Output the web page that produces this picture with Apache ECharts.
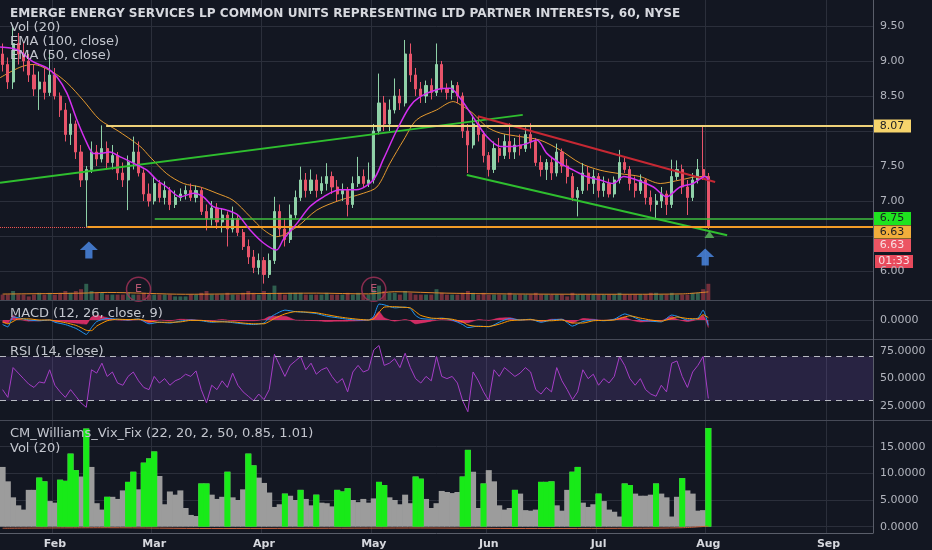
<!DOCTYPE html>
<html><head><meta charset="utf-8">
<script src="https://cdn.jsdelivr.net/npm/echarts@6/dist/echarts.min.js"></script>
<style>html,body{margin:0;padding:0;background:#131722;}#c{width:932px;height:550px;}</style>
</head><body><div id="c"></div><script>
// ---------- data ----------
const chartTitle = 'EMERGE ENERGY SERVICES LP COMMON UNITS REPRESENTING LTD PARTNER INTERESTS, 60, NYSE';
const firstDay = [2018, 0, 18];
const holidays = ['2018-02-19','2018-03-30','2018-05-28','2018-07-04','2018-09-03'];
const slotCount = 167;
const monthNames = ['Jan','Feb','Mar','Apr','May','Jun','Jul','Aug','Sep','Oct','Nov','Dec'];

// [open, close, low, high] per trading day
const candles = [
[9.10,8.95,8.85,9.25],[8.95,8.70,8.60,9.05],[8.70,9.25,8.60,9.51],[9.25,9.10,8.95,9.40],[9.10,9.00,8.85,9.27],
[9.00,8.80,8.70,9.10],[8.80,8.60,8.50,8.95],[8.60,8.70,8.30,8.85],[8.70,8.55,8.45,8.90],[8.55,8.80,8.50,9.16],
[8.80,8.50,8.45,8.90],[8.50,8.30,8.20,8.55],[8.30,7.95,7.85,8.40],[7.95,8.10,7.80,8.25],[8.10,7.70,7.60,8.15],
[7.70,7.30,7.20,7.80],[7.30,7.45,6.63,7.50],[7.45,7.70,7.40,7.85],[7.70,7.60,7.50,7.80],[7.60,7.75,7.55,8.08],
[7.75,7.55,7.45,7.85],[7.55,7.65,7.45,7.80],[7.65,7.40,7.30,7.70],[7.40,7.30,7.20,7.55],[7.30,7.55,6.87,7.65],
[7.55,7.70,7.45,7.92],[7.70,7.40,7.35,7.85],[7.40,7.10,7.00,7.45],[7.10,7.00,6.92,7.25],[7.00,7.25,6.95,7.35],
[7.25,7.05,6.98,7.30],[7.05,7.15,6.95,7.28],[7.15,6.95,6.87,7.20],[6.95,7.05,6.90,7.15],[7.05,7.10,7.00,7.18],
[7.10,7.15,7.02,7.22],[7.15,7.05,7.00,7.25],[7.05,7.15,6.98,7.22],[7.15,6.85,6.80,7.20],[6.85,6.75,6.58,6.95],
[6.75,6.90,6.65,7.00],[6.90,6.70,6.60,6.97],[6.70,6.80,6.55,6.90],[6.80,6.60,6.35,6.85],[6.60,6.75,6.55,6.92],
[6.75,6.55,6.50,6.80],[6.55,6.35,6.30,6.60],[6.35,6.20,6.10,6.45],[6.20,6.05,5.97,6.30],[6.05,6.15,5.95,6.25],
[6.15,5.95,5.82,6.20],[5.95,6.15,5.90,6.25],[6.15,6.85,6.10,7.06],[6.85,6.60,6.50,6.95],[6.60,6.45,6.35,6.75],
[6.45,6.80,6.40,6.95],[6.80,7.05,6.75,7.15],[7.05,7.30,7.00,7.49],[7.30,7.15,7.05,7.40],[7.15,7.30,7.10,7.45],
[7.30,7.15,7.05,7.38],[7.15,7.25,7.10,7.35],[7.25,7.35,7.15,7.54],[7.35,7.20,7.10,7.42],[7.20,7.10,7.00,7.30],
[7.10,7.15,7.00,7.25],[7.15,6.95,6.78,7.20],[6.95,7.25,6.90,7.35],[7.25,7.35,7.20,7.63],[7.35,7.25,7.20,7.45],
[7.25,7.30,7.20,7.55],[7.30,8.00,7.25,8.10],[8.00,8.40,7.95,8.82],[8.40,8.10,8.00,8.50],[8.10,8.30,8.00,8.45],
[8.30,8.50,8.25,8.75],[8.50,8.40,8.30,8.60],[8.40,9.10,8.35,9.30],[9.10,8.80,8.70,9.25],[8.80,8.60,8.50,8.90],
[8.60,8.50,8.40,8.70],[8.50,8.65,8.40,8.72],[8.65,8.55,8.45,8.75],[8.55,8.95,8.50,9.25],[8.95,8.60,8.55,9.00],
[8.60,8.55,8.45,8.68],[8.55,8.65,8.45,8.72],[8.65,8.50,8.40,8.70],[8.50,8.00,7.90,8.55],[8.00,7.80,7.40,8.10],
[7.80,8.10,7.75,8.23],[8.10,7.95,7.85,8.20],[7.95,7.65,7.55,8.00],[7.65,7.45,7.35,7.70],[7.45,7.75,7.40,7.85],
[7.75,7.65,7.55,7.90],[7.65,7.85,7.60,7.95],[7.85,7.70,7.60,8.11],[7.70,7.80,7.60,7.90],[7.80,7.75,7.65,7.95],
[7.75,7.95,7.70,8.05],[7.95,7.85,7.75,8.11],[7.85,7.55,7.50,7.90],[7.55,7.45,7.35,7.65],[7.45,7.55,7.30,7.60],
[7.55,7.40,7.30,7.62],[7.40,7.70,7.35,7.82],[7.70,7.50,7.40,7.75],[7.50,7.35,7.25,7.60],[7.35,7.05,7.00,7.40],
[7.05,7.15,6.78,7.20],[7.15,7.40,7.10,7.54],[7.40,7.25,7.15,7.50],[7.25,7.35,7.10,7.45],[7.35,7.15,7.05,7.40],
[7.15,7.25,7.06,7.35],[7.25,7.10,7.05,7.32],[7.10,7.30,7.05,7.35],[7.30,7.55,7.25,7.73],[7.55,7.45,7.40,7.63],
[7.45,7.25,7.15,7.50],[7.25,7.15,7.05,7.35],[7.15,7.30,7.10,7.38],[7.30,7.05,6.95,7.32],[7.05,6.95,6.85,7.15],
[6.95,7.00,6.73,7.10],[7.00,7.10,6.90,7.20],[7.10,6.95,6.80,7.15],[6.95,7.35,6.90,7.59],[7.35,7.45,7.30,7.58],
[7.45,7.20,7.10,7.52],[7.20,7.05,6.80,7.30],[7.05,7.30,7.00,7.40],[7.30,7.45,7.25,7.60],[7.45,7.35,7.30,8.07],
[7.35,6.63,6.60,7.40]
];
const volume = [
3,3,5,3,3,2,3,4,3,4, 3,4,5,4,5,6,9,5,4,4, 3,3,3,3,4,3,3,4,3,3, 3,3,3,2,2,2,3,3,4,5,
3,3,3,4,3,3,4,5,4,3, 5,4,8,4,3,4,4,4,3,3, 3,3,4,3,3,3,4,3,4,3, 3,6,8,5,4,4,3,5,4,3,
3,3,3,6,4,3,3,3,4,5, 4,3,4,3,3,3,3,4,3,3, 3,3,4,3,3,3,3,3,2,4, 3,3,3,3,3,3,3,3,4,3,
3,3,3,3,4,4,3,3,4,3, 3,3,4,4,6,9
];
const volumeMA = [[0,3.3],[15,3.8],[20,4.2],[35,3.2],[50,3.6],[60,3.8],[70,3.4],[75,4.6],[85,3.8],[100,3.3],[120,3.2],[130,3.4],[135,4.5]];
// [day position, price]
const ema50Points = [[-0.5,9.2],[2.8,9.16],[5.8,8.99],[8.5,8.9],[10.4,8.77],[12.3,8.54],[14.2,8.16],[16.1,7.83],[17.4,7.68],[18.6,7.68],[20.5,7.7],[22.5,7.63],[25,7.54],[27.6,7.44],[29.5,7.3],[31.4,7.2],[34,7.06],[36.5,7.11],[38.4,7.06],[40.3,6.92],[42.9,6.87],[45,6.8],[47.3,6.59],[49.9,6.4],[52.4,6.3],[53.7,6.45],[56.3,6.68],[58.8,6.92],[61.4,7.06],[64.5,7.16],[67.7,7.16],[70.9,7.3],[72.8,7.59],[75.4,8.01],[77.9,8.35],[79.9,8.49],[83,8.59],[85.6,8.61],[87.5,8.47],[90,8.2],[92.6,7.92],[95.2,7.78],[97.7,7.78],[100.3,7.82],[102.2,7.87],[104.1,7.68],[106.6,7.54],[109.2,7.44],[111.7,7.35],[114.3,7.3],[116.8,7.25],[118.8,7.35],[121.3,7.3],[124.5,7.2],[127,7.06],[129.6,7.2],[132.1,7.25],[134.4,7.35],[135,7.3]];
const ema100Points = [[-0.5,8.76],[3.3,8.91],[5.8,8.95],[9.6,8.84],[12.3,8.69],[15.4,8.44],[18.6,8.16],[21.9,8.01],[26.3,7.78],[28.2,7.63],[31.4,7.39],[34.6,7.25],[37.8,7.2],[41,7.11],[44.1,7.01],[47.3,6.78],[49.9,6.59],[52.4,6.49],[56.3,6.63],[60.1,6.87],[64.5,7.01],[69,7.11],[71.6,7.2],[74.1,7.54],[76.7,7.87],[79.2,8.16],[83,8.3],[86.2,8.42],[88.1,8.35],[90,8.25],[92.6,8.06],[95.2,7.97],[99,7.92],[102.8,7.87],[106.6,7.73],[110.5,7.54],[114.3,7.44],[118.1,7.39],[121.9,7.35],[125.8,7.25],[129.6,7.3],[133.4,7.35],[135,7.35]];
// drawings: [[x1, p1], [x2, p2]]
const levelYellow = 8.07, levelGreen = 6.75, levelOrange = 6.63, lastPrice = 6.63;
const yellowLine = [[19.8,8.07],[166.5,8.07]];
const orangeLine = [[16.2,6.63],[166.5,6.63]];
const greenLevelLine = [[29.1,6.75],[166.5,6.75]];
const lastPriceLine = [[-0.5,6.63],[166.5,6.63]];
const greenTrend = [[-0.5,7.26],[99.5,8.23]];
const redTrend = [[90.9,8.21],[136.3,7.27]];
const greenChannel = [[88.8,7.37],[138.6,6.51]];
const earningsMarks = [[26,5.74],[71,5.74]];
const arrowMarks = [[16.5,6.3],[134.4,6.2]];
const triangleMarks = [[135.2,6.52]];
const countdownText = '01:33';
// MACD [day, value]
const macdLine = [[0,-0.12],[1,-0.18],[2,0.08],[3,0.06],[5,0.0],[7,-0.02],[9,0.0],[10,-0.06],[12,-0.12],[14,-0.22],[15,-0.3],[16,-0.38],[17,-0.2],[18,-0.04],[20,0.04],[22,0.02],[24,0.0],[26,0.03],[28,-0.1],[30,-0.06],[32,-0.08],[34,-0.03],[36,0.0],[38,-0.02],[40,-0.06],[42,-0.04],[44,-0.07],[46,-0.1],[48,-0.12],[50,-0.08],[51,0.05],[52,0.14],[54,0.26],[56,0.22],[58,0.2],[60,0.17],[62,0.1],[64,0.06],[66,0.02],[68,0.0],[70,0.0],[71,0.1],[72,0.42],[73,0.40],[75,0.32],[77,0.34],[78,0.30],[79,0.12],[80,0.04],[82,0.02],[84,0.05],[86,0.0],[88,-0.12],[89,-0.2],[91,-0.16],[93,-0.18],[95,-0.06],[97,0.04],[99,0.0],[101,0.02],[103,-0.06],[105,0.0],[107,0.02],[109,-0.16],[111,-0.04],[113,0.0],[115,-0.02],[117,0.02],[119,0.16],[120,0.12],[122,0.0],[124,-0.03],[126,-0.05],[128,0.13],[129,0.1],[131,0.0],[133,0.05],[134,0.26],[135,-0.14]];
const macdSignal = [[0,-0.05],[1,-0.1],[2,-0.04],[3,0.03],[5,0.03],[7,0.0],[9,0.0],[10,-0.02],[12,-0.07],[14,-0.14],[15,-0.2],[16,-0.27],[17,-0.28],[18,-0.16],[20,-0.02],[22,0.02],[24,0.01],[26,0.02],[28,-0.03],[30,-0.06],[32,-0.06],[34,-0.05],[36,-0.01],[38,-0.01],[40,-0.04],[42,-0.05],[44,-0.05],[46,-0.08],[48,-0.1],[50,-0.1],[51,-0.04],[52,0.04],[54,0.16],[56,0.22],[58,0.21],[60,0.19],[62,0.14],[64,0.09],[66,0.05],[68,0.02],[70,0.0],[71,0.03],[72,0.2],[73,0.34],[75,0.35],[77,0.33],[78,0.32],[79,0.22],[80,0.12],[82,0.05],[84,0.04],[86,0.02],[88,-0.05],[89,-0.13],[91,-0.17],[93,-0.17],[95,-0.11],[97,-0.02],[99,0.0],[101,0.01],[103,-0.02],[105,-0.02],[107,0.0],[109,-0.08],[111,-0.08],[113,-0.02],[115,-0.01],[117,0.0],[119,0.08],[120,0.11],[122,0.05],[124,0.0],[126,-0.03],[128,0.04],[129,0.08],[131,0.04],[133,0.03],[134,0.14],[135,0.06]];
const macdHist = [[0,-0.07],[1,-0.08],[2,0.12],[3,0.03],[5,-0.03],[7,-0.02],[9,0],[10,-0.04],[12,-0.05],[14,-0.08],[15,-0.1],[16,-0.11],[17,0.08],[18,0.12],[20,0.06],[22,0],[24,-0.01],[26,0.01],[28,-0.07],[30,0],[32,-0.02],[34,0.02],[36,0.01],[38,-0.01],[40,-0.02],[42,0.01],[44,-0.02],[46,-0.02],[48,-0.02],[50,0.02],[51,0.09],[52,0.1],[54,0.1],[56,0],[58,-0.01],[60,-0.02],[62,-0.04],[64,-0.03],[66,-0.03],[68,-0.02],[70,0],[71,0.07],[72,0.22],[73,0.06],[75,-0.03],[77,0.01],[78,-0.02],[79,-0.1],[80,-0.08],[82,-0.03],[84,0.01],[86,-0.02],[88,-0.07],[89,-0.07],[91,0.01],[93,-0.01],[95,0.05],[97,0.06],[99,0],[101,0.01],[103,-0.04],[105,0.02],[107,0.02],[109,-0.08],[111,0.04],[113,0.02],[115,-0.01],[117,0.02],[119,0.08],[120,0.01],[122,-0.05],[124,-0.03],[126,-0.02],[128,0.09],[129,0.02],[131,-0.04],[133,0.02],[134,0.12],[135,-0.2]];
const rsi = [
40,33,60,55,50,45,42,47,46,58, 44,38,33,40,34,28,24,58,55,64, 52,56,46,44,52,56,48,42,40,52,
46,50,44,48,50,54,52,57,40,28, 44,40,48,42,55,44,38,34,30,36, 31,40,72,62,52,62,66,70,58,64,
54,58,60,52,46,50,38,56,62,56, 58,76,80,62,64,68,60,73,60,50, 46,52,48,70,52,50,52,46,30,20,
56,48,38,30,58,52,60,56,52,55, 60,56,40,36,42,38,60,48,40,31, 38,58,50,54,44,50,46,52,70,62,
50,44,50,40,36,34,44,38,64,66, 52,42,56,62,70,32
];
const rsiUpper = 70, rsiLower = 30;
const vixFix = [
11.2,8.5,5.5,4.0,3.2,6.9,6.9,9.2,8.5,4.8, 4.5,8.8,8.6,13.7,10.6,9.4,18.4,11.2,4.4,3.2,
5.6,5.6,5.2,6.8,8.4,10.3,7.0,12.0,12.8,14.1, 9.5,4.2,6.6,6.0,6.8,3.5,2.2,2.0,8.1,8.1,
6.0,5.2,5.6,10.3,5.5,5.0,7.0,13.7,11.5,9.2, 8.2,6.4,3.7,4.2,6.2,5.8,5.0,6.9,5.2,4.0,
6.0,4.5,4.4,3.8,6.9,6.6,7.2,5.0,4.6,5.2, 4.5,5.3,8.4,7.8,5.5,5.0,4.2,6.0,4.4,9.4,
9.0,5.2,3.5,4.4,6.7,6.5,6.3,6.5,9.4,14.4, 10.3,3.5,8.1,10.6,8.5,4.0,3.2,3.5,6.9,6.2,
3.1,3.0,3.2,8.4,8.4,8.5,4.0,3.0,6.9,10.3, 11.2,4.5,3.7,4.2,6.2,4.8,3.2,2.8,1.9,8.1,
7.8,6.2,5.8,5.8,6.0,8.1,6.2,5.5,1.9,5.6, 9.1,6.8,6.2,3.0,3.1,18.5
];
const vixAlertDays = [7,8,11,12,13,14,16,20,24,25,27,28,29,38,39,43,47,48,54,57,60,64,65,66,72,73,79,80,88,89,92,98,103,104,105,109,110,114,119,120,125,130,135];
const vixVolLine = [[0,-0.3],[20,-0.2],[40,-0.35],[60,-0.3],[80,-0.25],[100,-0.35],[120,-0.3],[130,-0.2],[135,0.1]];

// ---------- categories (trading days) ----------
const categories = [];
(function(){
  const d = new Date(Date.UTC(firstDay[0], firstDay[1], firstDay[2]));
  while (categories.length < slotCount) {
    const wd = d.getUTCDay(), s = d.toISOString().slice(0,10);
    if (wd !== 0 && wd !== 6 && holidays.indexOf(s) < 0) categories.push(s);
    d.setUTCDate(d.getUTCDate() + 1);
  }
})();
function isMonthStart(i){ return i > 0 && categories[i].slice(5,7) !== categories[i-1].slice(5,7); }

// ---------- styles ----------
const bg = '#131722', gridColor = '#2b2f3b', labelColor = '#b2b5be', font = 'DejaVu Sans';
const upColor = '#8fd1a8', downColor = '#e8546a';
const tr = 'rgba(0,0,0,0)';

function catAxis(gridIndex, withSplit, withLabels){
  return {
    type: 'category', gridIndex: gridIndex, data: categories, boundaryGap: true,
    axisLine: {show: false}, axisTick: {show: false},
    axisLabel: withLabels ? {show: true, interval: (i) => isMonthStart(i),
      formatter: (v) => monthNames[+v.slice(5,7) - 1], color: '#d6d8de', fontWeight: 'bold',
      fontSize: 11, fontFamily: font, margin: 5} : {show: false},
    splitLine: {show: withSplit, interval: (i) => isMonthStart(i), lineStyle: {color: gridColor, width: 1}}
  };
}
function ml(pts, color, width, type){
  return [{coord: pts[0], lineStyle: {color: color, width: width, type: type || 'solid'}}, {coord: pts[1]}];
}
const axisLabelBase = {color: labelColor, fontSize: 11, fontFamily: font, margin: 7};
const legendStyle = {color: '#c3c6ce', fontSize: 13, fontWeight: 'normal', fontFamily: font};
function legend(text, top){ return {text: text, left: 10, top: top, padding: 0, textStyle: legendStyle}; }

const option = {
  backgroundColor: bg,
  animation: false,
  title: [
    {text: chartTitle, left: 10, top: 8, padding: 0, textStyle: {color: '#d6d8de', fontSize: 12.1, fontWeight: 'bold', fontFamily: font}},
    legend('Vol (20)', 21),
    legend('EMA (100, close)', 35),
    legend('EMA (50, close)', 49),
    legend('MACD (12, 26, close, 9)', 307),
    legend('RSI (14, close)', 345),
    legend('CM_Williams_Vix_Fix (22, 20, 2, 50, 0.85, 1.01)', 427),
    legend('Vol (20)', 442)
  ],
  grid: [
    {left: 0, right: 59, top: 0, height: 306},
    {left: 0, right: 59, top: 282, height: 18},
    {left: 0, right: 59, top: 301, height: 38},
    {left: 0, right: 59, top: 340, height: 80},
    {left: 0, right: 59, top: 420, height: 113.33}
  ],
  xAxis: [
    catAxis(0, true, false),
    {type: 'value', gridIndex: 0, min: -0.5, max: slotCount - 0.5, show: false},
    catAxis(1, false, false),
    catAxis(2, true, false),
    catAxis(3, true, false),
    catAxis(4, true, true)
  ],
  yAxis: [
    {type: 'value', gridIndex: 0, position: 'right', min: 5.5, max: 9.871, interval: 0.5,
      axisLine: {show: false}, axisTick: {show: false},
      axisLabel: Object.assign({}, axisLabelBase, {formatter: (v) => (v < 5.9 || v > 9.6 || Math.abs(v - 8) < 1e-6 || Math.abs(v - 6.5) < 1e-6) ? '' : v.toFixed(2)}),
      splitLine: {show: true, lineStyle: {color: [tr, gridColor, gridColor, gridColor, gridColor, gridColor, gridColor, gridColor, gridColor, tr]}}},
    {type: 'value', gridIndex: 1, min: 0, max: 10, show: false},
    {type: 'value', gridIndex: 2, position: 'right', min: -0.5, max: 0.5, interval: 0.5,
      axisLine: {show: false}, axisTick: {show: false},
      axisLabel: Object.assign({}, axisLabelBase, {formatter: (v) => Math.abs(v) < 1e-9 ? '0.0000' : ''}),
      splitLine: {show: true, lineStyle: {color: [tr, gridColor, tr]}}},
    {type: 'value', gridIndex: 3, position: 'right', min: 12.5, max: 85, interval: 12.5,
      axisLine: {show: false}, axisTick: {show: false},
      axisLabel: Object.assign({}, axisLabelBase, {formatter: (v) => (v >= 25 && v <= 75 && Math.abs(v % 25) < 1e-9) ? v.toFixed(4) : ''}),
      splitLine: {show: false}},
    {type: 'value', gridIndex: 4, position: 'right', min: -1.25, max: 20, interval: 1.25,
      axisLine: {show: false}, axisTick: {show: false},
      axisLabel: Object.assign({}, axisLabelBase, {formatter: (v) => (v >= 0 && v < 19 && Math.abs(v % 5) < 1e-9) ? v.toFixed(4) : ''}),
      splitLine: {show: true, lineStyle: {color: [tr, gridColor, tr, tr]}}}
  ],
  series: [
    {type: 'line', name: 'EMA100', xAxisIndex: 1, yAxisIndex: 0, data: ema100Points, smooth: 0.3, showSymbol: false,
      lineStyle: {color: '#e59a2f', width: 1}, z: 3,
      markLine: {silent: true, symbol: ['none','none'], label: {show: false}, animation: false,
        data: [
          ml(lastPriceLine, '#ef5350', 1, 'dotted'),
          ml(greenTrend, '#2fbf2f', 2),
          ml(redTrend, '#c62833', 2),
          ml(greenChannel, '#2fbf2f', 2),
          ml(yellowLine, '#efd27a', 2),
          ml(greenLevelLine, '#3fbf3f', 1.5),
          ml(orangeLine, '#f39c27', 2)
        ]}},
    {type: 'candlestick', xAxisIndex: 0, yAxisIndex: 0, data: candles, barMaxWidth: 3, z: 4,
      itemStyle: {color: upColor, color0: downColor, borderColor: upColor, borderColor0: downColor, borderWidth: 1}},
    {type: 'line', name: 'EMA50', xAxisIndex: 1, yAxisIndex: 0, data: ema50Points, smooth: 0.3, showSymbol: false,
      lineStyle: {color: '#d42ff0', width: 1.5}, z: 5},
    {type: 'scatter', xAxisIndex: 1, yAxisIndex: 0, data: earningsMarks, symbol: 'circle', symbolSize: 24, z: 6,
      itemStyle: {color: tr, borderColor: '#a8325a', borderWidth: 1.5},
      label: {show: true, formatter: 'E', color: '#e06585', fontSize: 11, fontFamily: font}},
    {type: 'scatter', xAxisIndex: 1, yAxisIndex: 0, data: arrowMarks, z: 6,
      symbol: 'path://M10,0 L20,10 L14,10 L14,20 L6,20 L6,10 L0,10 Z', symbolSize: [18, 17],
      itemStyle: {color: '#4d8ded'}},
    {type: 'scatter', xAxisIndex: 1, yAxisIndex: 0, data: triangleMarks, z: 6,
      symbol: 'triangle', symbolSize: [10, 7], itemStyle: {color: '#5cc05c'}},
    {type: 'bar', xAxisIndex: 2, yAxisIndex: 1, data: volume, barCategoryGap: '25%',
      itemStyle: {color: (p) => candles[p.dataIndex][1] >= candles[p.dataIndex][0] ? 'rgba(83,185,135,0.45)' : 'rgba(235,77,92,0.45)'}},
    {type: 'line', xAxisIndex: 2, yAxisIndex: 1, data: volumeMA, smooth: 0.3, showSymbol: false,
      lineStyle: {color: '#e0862a', width: 1}},
    {type: 'line', xAxisIndex: 3, yAxisIndex: 2, data: macdHist, showSymbol: false, smooth: 0.2,
      lineStyle: {color: '#f0306e', width: 0.5}, areaStyle: {color: '#f0306e', opacity: 0.85}},
    {type: 'line', xAxisIndex: 3, yAxisIndex: 2, data: macdLine, showSymbol: false, smooth: 0.2,
      lineStyle: {color: '#2196f3', width: 1}},
    {type: 'line', xAxisIndex: 3, yAxisIndex: 2, data: macdSignal, showSymbol: false, smooth: 0.2,
      lineStyle: {color: '#ff9800', width: 1}},
    {type: 'line', xAxisIndex: 4, yAxisIndex: 3, data: rsi, showSymbol: false,
      lineStyle: {color: '#a53dc6', width: 1},
      markArea: {silent: true, itemStyle: {color: 'rgba(126,87,194,0.2)'}, data: [[{yAxis: rsiUpper}, {yAxis: rsiLower}]]},
      markLine: {silent: true, symbol: ['none','none'], label: {show: false},
        lineStyle: {color: '#b8bac2', type: [6, 5], width: 1},
        data: [{yAxis: rsiUpper}, {yAxis: rsiLower}]}},
    {type: 'bar', xAxisIndex: 5, yAxisIndex: 4, data: vixFix, barWidth: 6,
      itemStyle: {color: '#9c9c9c'}},
    {type: 'bar', xAxisIndex: 5, yAxisIndex: 4, barWidth: 6, barGap: '-100%',
      data: vixFix.map((v, i) => vixAlertDays.indexOf(i) >= 0 ? v : null),
      itemStyle: {color: '#18ea18'}},
    {type: 'line', xAxisIndex: 5, yAxisIndex: 4, data: vixVolLine, showSymbol: false, smooth: 0.3,
      lineStyle: {color: '#c8603d', width: 1}}
  ]
};

const chart = echarts.init(document.getElementById('c'), null, {renderer: 'canvas'});
chart.setOption(option);

// price tags and separators
const py = (v) => chart.convertToPixel({yAxisIndex: 0}, v);
const axisX = 873;
function tag(y, text, fill, color, dx){
  const x0 = axisX + (dx || 0);
  return {type: 'group', z: 100, children: [
    {type: 'rect', shape: {x: x0, y: y - 6.5, width: 38, height: 13}, style: {fill: fill}},
    {type: 'text', style: {text: text, x: x0 + 19, y: y, align: 'center', verticalAlign: 'middle',
      fill: color, font: '11px "DejaVu Sans"'}}
  ]};
}
const lineStyle = (c) => ({stroke: c, lineWidth: 1});
chart.setOption({graphic: [
  {type: 'line', shape: {x1: 0, y1: 300.5, x2: 932, y2: 300.5}, style: lineStyle('#464a57'), z: 50},
  {type: 'line', shape: {x1: 0, y1: 339.5, x2: 932, y2: 339.5}, style: lineStyle('#464a57'), z: 50},
  {type: 'line', shape: {x1: 0, y1: 420.5, x2: 932, y2: 420.5}, style: lineStyle('#464a57'), z: 50},
  {type: 'line', shape: {x1: 0, y1: 533.5, x2: axisX, y2: 533.5}, style: lineStyle('#5a5e6a'), z: 50},
  {type: 'line', shape: {x1: axisX + 0.5, y1: 0, x2: axisX + 0.5, y2: 533.5}, style: lineStyle('#5a5e6a'), z: 50},
  tag(py(levelYellow), levelYellow.toFixed(2), '#f6d46c', '#1b1d24'),
  tag(py(levelGreen), levelGreen.toFixed(2), '#1fe31f', '#1b1d24'),
  tag(py(levelOrange) + 5, levelOrange.toFixed(2), '#f2ae3b', '#1b1d24'),
  tag(py(lastPrice) + 18.5, lastPrice.toFixed(2), '#ec5563', '#f8dfe2'),
  tag(py(lastPrice) + 34.5, countdownText, '#e84a5c', '#f8dfe2', 2)
]});
</script></body></html>
